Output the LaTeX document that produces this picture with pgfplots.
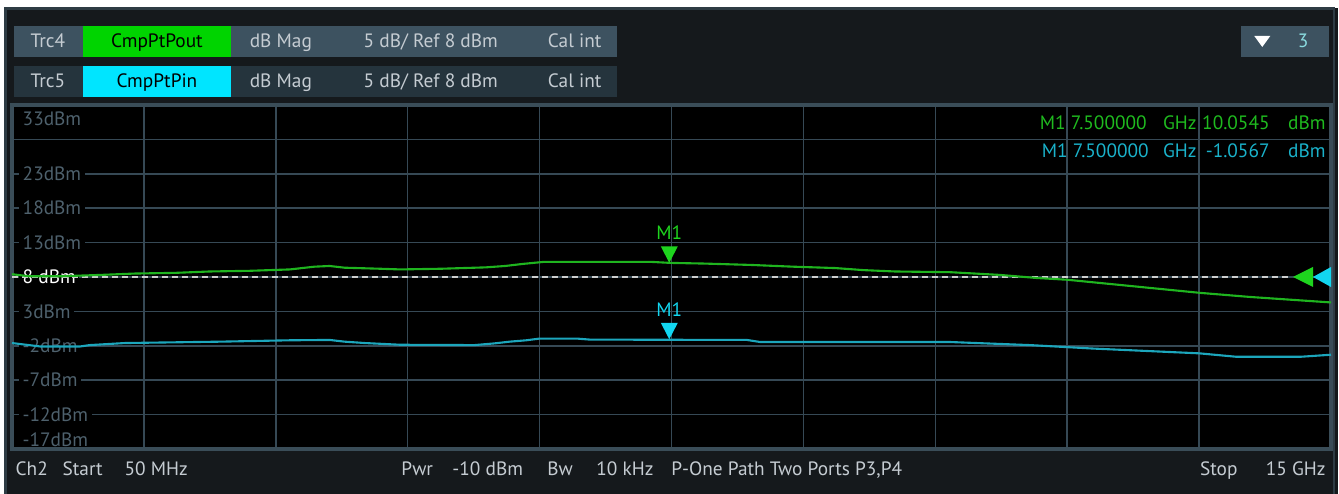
\documentclass[border=0pt]{standalone}
\usepackage{fontspec}
\setmainfont{PT Sans}
\usepackage{pgfplots}
\usepackage{pgfplotstable}
\pgfplotsset{compat=1.18}
\definecolor{framebg}{HTML}{15191C}
\definecolor{frameln}{HTML}{2E3C44}
\definecolor{hdrA}{HTML}{3D5260}
\definecolor{hdrB}{HTML}{25343D}
\definecolor{boxG}{HTML}{00D400}
\definecolor{boxC}{HTML}{00E5FF}
\definecolor{hdrtxt}{HTML}{C5CCD2}
\definecolor{gridc}{HTML}{364955}
\definecolor{borderc}{HTML}{3A4D58}
\definecolor{ticktxt}{HTML}{4E616D}
\definecolor{trG}{HTML}{1FB41F}
\definecolor{trC}{HTML}{1CA6BC}
\definecolor{mkG}{HTML}{1ED41E}
\definecolor{mkC}{HTML}{12D6F0}
\definecolor{refc}{HTML}{CFCFCF}
\definecolor{infoG}{HTML}{1FBA1F}
\definecolor{infoC}{HTML}{1AB2CA}
\newcommand\fs{\fontsize{5.5}{6.5}\selectfont}

\pgfdeclareplotmark{dtri}{%
  \pgfpathmoveto{\pgfpoint{0pt}{0pt}}%
  \pgfpathlineto{\pgfpoint{-0.085cm}{0.165cm}}%
  \pgfpathlineto{\pgfpoint{0.085cm}{0.165cm}}%
  \pgfpathclose\pgfusepathqfill}
\pgfdeclareplotmark{reftriG}{%
  \pgfpathmoveto{\pgfpoint{-0.38cm}{0pt}}%
  \pgfpathlineto{\pgfpoint{-0.18cm}{0.1cm}}%
  \pgfpathlineto{\pgfpoint{-0.18cm}{-0.1cm}}%
  \pgfpathclose\pgfusepathqfill}
\pgfdeclareplotmark{reftriC}{%
  \pgfpathmoveto{\pgfpoint{-0.18cm}{0pt}}%
  \pgfpathlineto{\pgfpoint{0cm}{0.1cm}}%
  \pgfpathlineto{\pgfpoint{0cm}{-0.1cm}}%
  \pgfpathclose\pgfusepathqfill}

\pgfplotstableread{
f dB
0.05 8.4
0.25 8.1
0.59 8.1
1.05 8.3
1.44 8.5
1.90 8.6
2.29 8.8
2.75 8.9
3.20 9.1
3.48 9.5
3.65 9.6
3.82 9.35
4.22 9.2
4.45 9.1
4.92 9.2
5.42 9.4
5.64 9.6
5.84 9.9
6.08 10.2
7.29 10.2
7.51 10.05
7.90 9.95
8.43 9.75
8.90 9.5
9.38 9.3
9.70 9.0
10.06 8.8
10.68 8.7
11.25 8.3
11.67 7.85
12.01 7.6
12.80 6.6
13.51 5.7
14.08 5.1
15.0 4.3
}\pout

\pgfplotstableread{
f dB
0.05 -1.6
0.37 -2.1
0.82 -2.1
0.93 -1.9
1.33 -1.6
2.41 -1.4
3.20 -1.2
3.65 -1.15
3.82 -1.4
4.05 -1.6
4.45 -1.85
5.29 -1.9
5.52 -1.65
5.69 -1.4
5.88 -1.2
6.03 -0.95
6.45 -0.95
6.60 -1.1
8.38 -1.15
8.53 -1.45
10.68 -1.45
11.59 -1.9
12.30 -2.4
13.51 -3.1
13.93 -3.6
14.65 -3.6
15.0 -3.3
}\pin

\begin{document}
\begin{tikzpicture}
\pgfplotsset{set layers}
\begin{pgfonlayer}{axis background}
\begin{scope}[x=0.01cm,y=-0.01cm,yshift=4.94cm]
  \fill[white] (0,0) rectangle (1339,494);
  \fill[framebg] (5,8) rectangle (1339,494);
  \draw[frameln, line width=0.6pt] (5.5,494) -- (5.5,8.5) -- (1335,8.5) -- (1335,494);
  % header rows
  \fill[hdrA] (14,26) rectangle (83,57);
  \fill[boxG] (83,26) rectangle (231,57);
  \fill[hdrA] (231,26) rectangle (617,57);
  \fill[hdrB] (14,66) rectangle (83,97);
  \fill[boxC] (83,66) rectangle (231,97);
  \fill[hdrB] (231,66) rectangle (617,97);
  \fill[hdrA] (1242,26) rectangle (1330,57);
  \fill[white] (1255,36) -- (1271,36) -- (1263,47) -- cycle;
\end{scope}
\end{pgfonlayer}
\begin{scope}[x=0.01cm,y=-0.01cm,yshift=4.94cm]
  \begin{scope}[every node/.style={font=\fs, inner sep=0pt, anchor=base}]
    \node[text=hdrtxt] at (48,48) {Trc4};
    \node[text=black] at (157,48) {CmpPtPout};
    \node[text=hdrtxt] at (281,48) {dB Mag};
    \node[text=hdrtxt] at (431,48) {5 dB/ Ref 8 dBm};
    \node[text=hdrtxt] at (575,48) {Cal int};
    \node[text=hdrtxt] at (48,88) {Trc5};
    \node[text=black] at (157,88) {CmpPtPin};
    \node[text=hdrtxt] at (281,88) {dB Mag};
    \node[text=hdrtxt] at (431,88) {5 dB/ Ref 8 dBm};
    \node[text=hdrtxt] at (575,88) {Cal int};
    \node[text=hdrtxt!70!cyan] at (1304,48) {3};
  \end{scope}
\end{scope}

\begin{axis}[at={(0.12cm,0.45cm)}, anchor=south west, scale only axis,
  width=13.19cm, height=3.44cm,
  xmin=0.05, xmax=15, ymin=-17, ymax=33,
  set layers=standard,
  axis background/.style={fill=black},
  axis line style={borderc, line width=0.9pt},
  xtick={1.545,3.04,4.535,6.03,7.525,9.02,10.515,12.01,13.505},
  xticklabels={}, xtick style={draw=none},
  ytick={-12,-7,-2,3,8,13,18,23},
  yticklabels={-12dBm,-7dBm,-2dBm,3dBm,{\color{white}8 dBm},13dBm,18dBm,23dBm},
  ytick pos=left, ytick style={gridc, line width=0.45pt},
  major tick length=0.05cm, tick align=inside,
  grid=major, major grid style={gridc, line width=0.45pt},
  yticklabel style={anchor=west, xshift=0.065cm, fill=black, inner sep=1pt, text=ticktxt, font=\fs},
  extra y ticks={28}, extra y tick labels={},
  extra y tick style={yticklabel style={fill=none}},
  clip=false]
  \addplot[refc, line width=0.6pt, dash pattern=on 0.06cm off 0.04cm] coordinates {(0.05,8) (14.55,8)};
  \addplot[trG, line width=0.6pt] table[x=f,y=dB] {\pout};
  \addplot[trC, line width=0.6pt] table[x=f,y=dB] {\pin};
  \addplot[only marks, mark=dtri, mkG, nodes near coords, point meta=explicit symbolic,
    every node near coord/.append style={anchor=center, yshift=0.30cm, text=mkG, font=\fs}]
    coordinates {(7.5,10.0545) [M1]};
  \addplot[only marks, mark=dtri, mkC, nodes near coords, point meta=explicit symbolic,
    every node near coord/.append style={anchor=center, yshift=0.30cm, text=mkC, font=\fs}]
    coordinates {(7.5,-1.0567) [M1]};
  \addplot[only marks, mark=reftriG, mkG] coordinates {(15,8)};
  \addplot[only marks, mark=reftriC, mkC] coordinates {(15,8)};
  \node[anchor=west, xshift=0.065cm, yshift=-0.14cm, inner sep=1pt, text=ticktxt, font=\fs] at (rel axis cs:0,1) {33dBm};
  \node[anchor=west, xshift=0.065cm, yshift=0.09cm, inner sep=1pt, text=ticktxt, font=\fs] at (rel axis cs:0,0) {-17dBm};
\end{axis}

\begin{scope}[x=0.01cm,y=-0.01cm,yshift=4.94cm]
  \begin{scope}[every node/.style={font=\fs, inner sep=0pt, anchor=base east}]
    \node[text=infoG] at (1148,130) {M1 7.500000};
    \node[text=infoG] at (1198,130) {GHz};
    \node[text=infoG] at (1271,130) {10.0545};
    \node[text=infoG] at (1327,130) {dBm};
    \node[text=infoC] at (1150,158) {M1 7.500000};
    \node[text=infoC] at (1198,158) {GHz};
    \node[text=infoC] at (1271,158) {-1.0567};
    \node[text=infoC] at (1327,158) {dBm};
  \end{scope}
  \begin{scope}[every node/.style={font=\fs, inner sep=0pt, anchor=base west, text=hdrtxt}]
    \node at (15,476) {Ch2};
    \node at (62,476) {Start};
    \node at (124,476) {50 MHz};
    \node at (401,476) {Pwr};
    \node at (452,476) {-10 dBm};
    \node at (547,476) {Bw};
    \node at (596,476) {10 kHz};
    \node at (671,476) {P-One Path Two Ports P3,P4};
    \node at (1200,476) {Stop};
    \node[anchor=base east] at (1327,476) {15 GHz};
  \end{scope}
\end{scope}
\pgfresetboundingbox
\useasboundingbox (0,0) rectangle (13.39cm,4.94cm);
\end{tikzpicture}
\end{document}
